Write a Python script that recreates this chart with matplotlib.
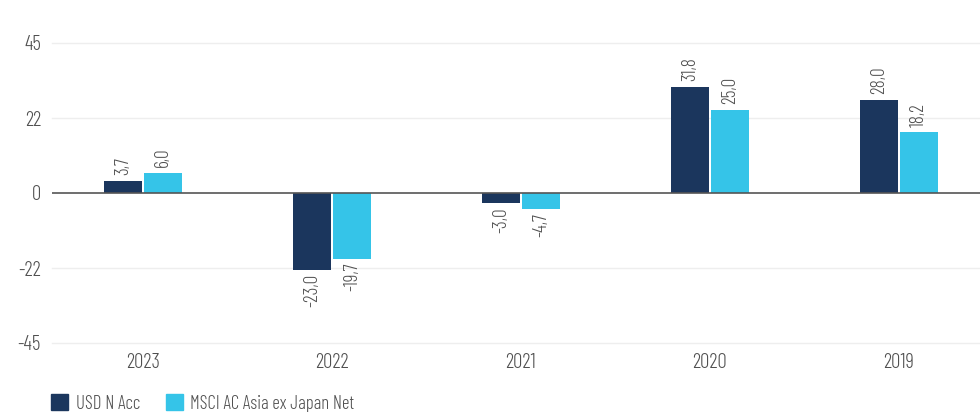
import matplotlib
matplotlib.use("Agg")
import matplotlib.pyplot as plt
from matplotlib.patches import Patch
import numpy as np

years = ["2023", "2022", "2021", "2020", "2019"]
fund = [3.7, -23.0, -3.0, 31.8, 28.0]
index = [6.0, -19.7, -4.7, 25.0, 18.2]
series_names = ["USD N Acc", "MSCI AC Asia ex Japan Net"]
yticks = [-45, -22.5, 0, 22.5, 45]
ytick_labels = ["-45", "-22", "0", "22", "45"]

plt.rcParams['font.family'] = ['Barlow Condensed', 'DejaVu Sans']
plt.rcParams['font.weight'] = 300

navy = "#1b365d"
cyan = "#35c4e8"
txt = "#505050"

W, H = 980, 412
fig = plt.figure(figsize=(W/100, H/100), dpi=100)
ax = fig.add_axes([52/W, (H-343)/H, (980-52)/W, 300/H])

x = np.arange(len(years))
bw = 0.2
off = 0.106
b1 = ax.bar(x - off, fund, bw, color=navy, zorder=3)
b2 = ax.bar(x + off, index, bw, color=cyan, zorder=3)

def fmt(v):
    return f"{v:.1f}".replace(".", ",")

for bars, vals in ((b1, fund), (b2, index)):
    for r, v in zip(bars, vals):
        cx = r.get_x() + r.get_width()/2
        if v >= 0:
            ax.annotate(fmt(v), (cx, v), xytext=(0, 4), textcoords="offset points",
                        rotation=90, ha="center", va="bottom", fontsize=14, color=txt)
        else:
            ax.annotate(fmt(v), (cx, v), xytext=(0, -3), textcoords="offset points",
                        rotation=90, ha="center", va="top", fontsize=14, color=txt)

ax.set_xlim(-0.481, 4.429)
ax.set_ylim(-45, 45)
ax.set_yticks(yticks)
ax.set_yticklabels(ytick_labels)
ax.set_xticks(x)
ax.set_xticklabels(years)
for yv in yticks:
    if yv != 0:
        ax.axhline(yv, color="#eeeeee", lw=1, zorder=1, clip_on=False)
ax.axhline(0, color="#555555", lw=1.2, zorder=4)
for s in ax.spines.values():
    s.set_visible(False)
ax.tick_params(axis="both", length=0, labelsize=15, labelcolor=txt)
ax.tick_params(axis="y", pad=8)
ax.tick_params(axis="x", pad=7)

handles = [Patch(color=navy), Patch(color=cyan)]
fig.legend(handles, series_names, loc="lower left", bbox_to_anchor=(42/W, -10/H),
           ncol=2, frameon=False, fontsize=13.5, labelcolor=txt, borderpad=0,
           handlelength=0.9, handleheight=0.9, handletextpad=0.42, columnspacing=1.35)

fig.savefig("out.png", dpi=100)
